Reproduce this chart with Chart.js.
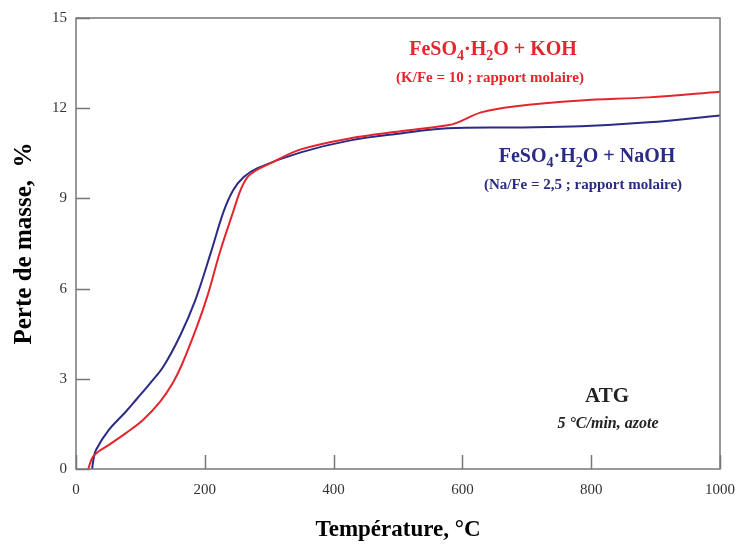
<html>
<head>
    <title>ATG - perte de masse</title>
    <script src="https://cdn.jsdelivr.net/npm/chart.js"></script>
    <style>
        body { margin: 0; background: white; }
        #wrap { width: 737px; height: 546px; }
    </style>
</head>
<body>
    <div id="wrap"><canvas id="atgChart" width="737" height="546"></canvas></div>

    <script>
        // values (temperature in °C, mass loss in %)
        var tempKOH = [19, 22, 26, 35, 51, 78, 104, 131, 150, 165, 188, 204, 224, 244, 255, 266, 281, 300, 349, 426, 504, 577, 593, 629, 680, 784, 889, 1000];
        var massKOH = [0, 0.2, 0.4, 0.58, 0.8, 1.2, 1.63, 2.25, 2.85, 3.5, 4.75, 5.75, 7.25, 8.55, 9.25, 9.7, 9.95, 10.15, 10.63, 11.0, 11.23, 11.43, 11.53, 11.86, 12.06, 12.26, 12.36, 12.55];

        var tempNaOH = [25, 27, 31, 51, 78, 94, 115, 136, 162, 185, 209, 229, 244, 260, 281, 349, 426, 504, 577, 680, 784, 889, 1000];
        var massNaOH = [0, 0.3, 0.63, 1.3, 1.92, 2.32, 2.85, 3.42, 4.45, 5.6, 7.17, 8.55, 9.27, 9.7, 10.0, 10.53, 10.93, 11.16, 11.33, 11.36, 11.4, 11.53, 11.76];

        var xTicks = [0, 200, 400, 600, 800, 1000];
        var yTicks = [0, 3, 6, 9, 12, 15];

        var RED = "#e3262d";
        var BLUE = "#2b2b86";
        var SERIF = "'Liberation Serif', 'DejaVu Serif', serif";

        function toPoints(xs, ys) {
            return xs.map(function (x, i) { return { x: x, y: ys[i] }; });
        }

        // text with subscripts, centred on (cx, cy)
        function drawRich(ctx, runs, cx, cy, size, color, style) {
            var sub = Math.round(size * 0.68);
            var total = 0;
            runs.forEach(function (r) {
                ctx.font = style + " " + (r[1] ? sub : size) + "px " + SERIF;
                total += ctx.measureText(r[0]).width;
            });
            var x = cx - total / 2;
            ctx.fillStyle = color;
            ctx.textBaseline = "middle";
            ctx.textAlign = "left";
            runs.forEach(function (r) {
                ctx.font = style + " " + (r[1] ? sub : size) + "px " + SERIF;
                ctx.fillText(r[0], x, cy + (r[1] ? size * 0.3 : 0));
                x += ctx.measureText(r[0]).width;
            });
        }

        var framePlugin = {
            id: "frame",
            afterDraw: function (chart) {
                var ctx = chart.ctx;
                var a = chart.chartArea;
                var xs = chart.scales.x, ys = chart.scales.y;
                ctx.save();
                ctx.strokeStyle = "#777";
                ctx.lineWidth = 1.5;
                ctx.strokeRect(a.left, a.top, a.right - a.left, a.bottom - a.top);
                // inward ticks
                ctx.beginPath();
                xTicks.forEach(function (v) {
                    var px = Math.round(xs.getPixelForValue(v)) + 0.5;
                    ctx.moveTo(px, a.bottom);
                    ctx.lineTo(px, a.bottom - 14);
                });
                yTicks.forEach(function (v) {
                    var py = Math.round(ys.getPixelForValue(v)) + 0.5;
                    ctx.moveTo(a.left, py);
                    ctx.lineTo(a.left + 14, py);
                });
                ctx.stroke();

                drawRich(ctx, [["FeSO", 0], ["4", 1], ["·H", 0], ["2", 1], ["O + KOH", 0]], 493, 50, 20, RED, "bold");
                drawRich(ctx, [["(K/Fe = 10 ; rapport molaire)", 0]], 490, 78, 15, RED, "bold");
                drawRich(ctx, [["FeSO", 0], ["4", 1], ["·H", 0], ["2", 1], ["O + NaOH", 0]], 587, 157, 20, BLUE, "bold");
                drawRich(ctx, [["(Na/Fe = 2,5 ; rapport molaire)", 0]], 583, 185, 15, BLUE, "bold");
                drawRich(ctx, [["ATG", 0]], 607, 397, 21, "#222", "bold");
                drawRich(ctx, [["5 °C/min, azote", 0]], 608, 424, 16, "#222", "italic bold");
                ctx.restore();
            }
        };

        var ctx = document.getElementById("atgChart").getContext("2d");
        new Chart(ctx, {
            type: "line",
            data: {
                datasets: [
                    {
                        label: "FeSO4·H2O + KOH",
                        data: toPoints(tempKOH, massKOH),
                        borderColor: RED,
                        borderWidth: 2,
                        pointRadius: 0,
                        tension: 0.35,
                        fill: false
                    },
                    {
                        label: "FeSO4·H2O + NaOH",
                        data: toPoints(tempNaOH, massNaOH),
                        borderColor: BLUE,
                        borderWidth: 2,
                        pointRadius: 0,
                        tension: 0.35,
                        fill: false
                    }
                ]
            },
            options: {
                responsive: false,
                animation: false,
                layout: { padding: { top: 17, right: 17, left: 0, bottom: 0 } },
                plugins: { legend: { display: false }, tooltip: { enabled: false } },
                scales: {
                    x: {
                        type: "linear",
                        min: 0,
                        max: 1000,
                        afterBuildTicks: function (s) { s.ticks = xTicks.map(function (v) { return { value: v }; }); },
                        afterFit: function (s) { s.height = 77; s.paddingLeft = 0; s.paddingRight = 0; },
                        grid: { display: false, drawTicks: false },
                        border: { display: false },
                        ticks: {
                            padding: 12, color: "#333", maxRotation: 0,
                            font: { family: SERIF, size: 15 },
                            callback: function (v) { return String(v); }
                        },
                        title: { display: true, text: "Température, °C", color: "#000", padding: { top: 0, bottom: 2 }, font: { family: SERIF, size: 23, weight: "bold" } }
                    },
                    y: {
                        min: 0,
                        max: 15,
                        afterBuildTicks: function (s) { s.ticks = yTicks.map(function (v) { return { value: v }; }); },
                        afterFit: function (s) { s.width = 76; },
                        grid: { display: false, drawTicks: false },
                        border: { display: false },
                        ticks: { padding: 9, color: "#333", font: { family: SERIF, size: 15 } },
                        title: { display: true, text: "Perte de masse,  %", color: "#000", padding: { top: 10, bottom: 0 }, font: { family: SERIF, size: 25, weight: "bold" } }
                    }
                }
            },
            plugins: [framePlugin]
        });
    </script>
</body>
</html>
